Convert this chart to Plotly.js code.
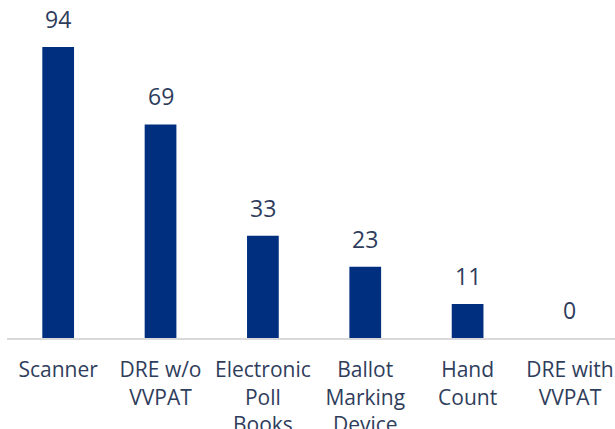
<!DOCTYPE html>
<html><head><meta charset="utf-8">
<script src="https://cdn.plot.ly/plotly-3.0.1.min.js"></script>
<style>html,body{margin:0;padding:0;background:#fff;}#chart{width:615px;height:429px;}</style>
</head><body><div id="chart"></div>
<script>
var categories = ["Scanner", "DRE w/o<br>VVPAT", "Electronic<br>Poll<br>Books", "Ballot<br>Marking<br>Device", "Hand<br>Count", "DRE with<br>VVPAT"];
var values = [94, 69, 33, 23, 11, 0];
var barColor = "#002F7F";
var textColor = "#2F3D5C";
var fontFamily = "Open Sans, sans-serif";

var annotations = categories.map(function(c, i){
  return {x: c, y: values[i], text: String(values[i]), showarrow: false,
    yanchor: "bottom", yshift: 10, font: {family: fontFamily, size: 23, color: textColor}};
});

Plotly.newPlot("chart", [{
  type: "bar", x: categories, y: values,
  marker: {color: barColor}, hoverinfo: "none"
}], {
  width: 615, height: 429,
  margin: {l: 7, r: 0, t: 0, b: 91},
  paper_bgcolor: "#fff", plot_bgcolor: "#fff",
  bargap: 0.69,
  showlegend: false,
  xaxis: {range: [-0.5, 5.44], showline: true, linecolor: "#D9D9D9", linewidth: 2,
    ticks: "", ticklabelstandoff: 12, tickfont: {family: fontFamily, size: 21, color: textColor}, fixedrange: true},
  yaxis: {range: [0, 109.2], visible: false, showgrid: false, zeroline: false, fixedrange: true},
  annotations: annotations
}, {staticPlot: true});
</script></body></html>
